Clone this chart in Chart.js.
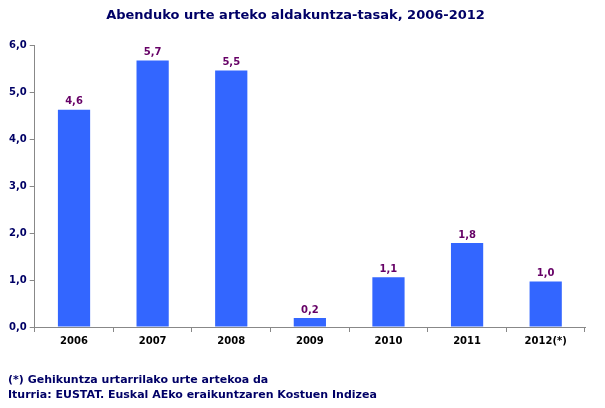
<!DOCTYPE html>
<html><head><meta charset="utf-8">
<script src="https://cdn.jsdelivr.net/npm/chart.js@4"></script>
<style>
body{margin:0;background:#fff;width:605px;height:408px;overflow:hidden;position:relative;font-family:Verdana,"DejaVu Sans",sans-serif}
#c{position:absolute;left:0;top:0}
.note{position:absolute;left:8px;font-size:11px;color:#000066;font-weight:bold}
</style></head><body>
<canvas id="c" width="605" height="408"></canvas>
<div class="note" style="top:373px">(*) Gehikuntza urtarrilako urte artekoa da</div>
<div class="note" style="top:388px">Iturria: EUSTAT. Euskal AEko eraikuntzaren Kostuen Indizea</div>
<script>
const categories=["2006","2007","2008","2009","2010","2011","2012(*)"];
const values=[4.63,5.68,5.47,0.19,1.06,1.79,0.97];
const valueLabels=["4,6","5,7","5,5","0,2","1,1","1,8","1,0"];
const yTicks=[0,1,2,3,4,5,6];
const labelPlugin={id:'lbl',afterDatasetsDraw(ch){const ctx=ch.ctx;const m=ch.getDatasetMeta(0);ctx.save();ctx.font='bold 10px "DejaVu Sans", Verdana';ctx.fillStyle='#660066';ctx.textAlign='center';ctx.textBaseline='bottom';m.data.forEach((b,i)=>ctx.fillText(valueLabels[i],b.x,b.y-3));ctx.restore();}};
new Chart(document.getElementById('c'),{type:'bar',
data:{labels:categories,datasets:[{data:values,backgroundColor:'#3366FF',categoryPercentage:1,barPercentage:0.41}]},
options:{responsive:false,animation:false,
layout:{padding:{top:6,right:20,bottom:58,left:6}},
plugins:{legend:{display:false},tooltip:{enabled:false},
title:{display:true,text:'Abenduko urte arteko aldakuntza-tasak, 2006-2012',color:'#000066',font:{family:'"DejaVu Sans", Verdana',size:13,weight:'bold'},padding:{top:2,bottom:22}}},
scales:{x:{grid:{display:true,drawOnChartArea:false,offset:true,color:'#888',tickLength:5},border:{color:'#888'},ticks:{color:'#000',font:{family:'"DejaVu Sans", Verdana',size:10,weight:'bold'}}},
y:{min:0,max:6,afterBuildTicks(a){a.ticks=yTicks.map(v=>({value:v}));},grid:{display:true,drawOnChartArea:false,color:'#888',tickLength:5},border:{color:'#888'},ticks:{color:'#000066',font:{family:'"DejaVu Sans", Verdana',size:10,weight:'bold'},callback:v=>v.toFixed(1).replace('.',',')}}}},
plugins:[labelPlugin]});
</script></body></html>
